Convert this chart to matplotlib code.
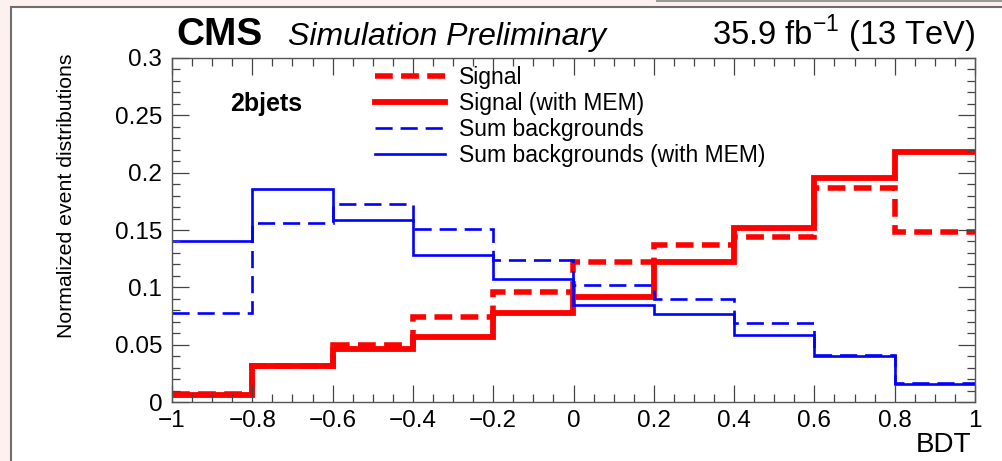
import numpy as np
import matplotlib.pyplot as plt
from matplotlib.patches import Rectangle
from matplotlib.lines import Line2D
from matplotlib.ticker import MultipleLocator, FuncFormatter
from matplotlib import font_manager

plt.rcParams['font.family'] = ['Liberation Sans', 'DejaVu Sans']
plt.rcParams['mathtext.fontset'] = 'custom'
plt.rcParams['mathtext.rm'] = 'Liberation Sans'

# BDT bins and normalized distributions
bin_edges = [-1.0, -0.8, -0.6, -0.4, -0.2, 0.0, 0.2, 0.4, 0.6, 0.8, 1.0]
signal = [0.007, 0.031, 0.050, 0.074, 0.096, 0.122, 0.137, 0.144, 0.187, 0.148]
signal_mem = [0.006, 0.031, 0.046, 0.057, 0.078, 0.092, 0.122, 0.152, 0.195, 0.218]
bkg = [0.078, 0.156, 0.173, 0.151, 0.124, 0.102, 0.090, 0.069, 0.041, 0.017]
bkg_mem = [0.140, 0.186, 0.159, 0.128, 0.107, 0.085, 0.077, 0.058, 0.040, 0.016]

fig = plt.figure(figsize=(10.03, 4.61), dpi=100, facecolor='#fdf1f0')
# white canvas panel
fig.patches.append(Rectangle((11 / 1003, -0.1), 1.2, 1.1 - 7 / 461, transform=fig.transFigure,
                             facecolor='white', edgecolor='#6e6e6e', lw=1.5, zorder=-5))
fig.lines.append(Line2D([657 / 1003, 1.0], [1 - 1.5 / 461] * 2, transform=fig.transFigure,
                        color='#9a9a9a', lw=1.5, zorder=-4))

ax = fig.add_axes([172 / 1003, 1 - 402 / 461, 803 / 1003, 344 / 461])
ax.set_facecolor('white')

ax.stairs(signal, bin_edges, baseline=None, color='#ff0000', lw=4, linestyle=(0, (3.2, 1.5)),
          label='Signal')
ax.stairs(signal_mem, bin_edges, baseline=None, color='#ff0000', lw=4.2, label='Signal (with MEM)')
ax.stairs(bkg, bin_edges, baseline=None, color='#0000ff', lw=1.9, linestyle=(0, (6.5, 3)),
          label='Sum backgrounds')
ax.stairs(bkg_mem, bin_edges, baseline=None, color='#0000ff', lw=1.9,
          label='Sum backgrounds (with MEM)')

ax.set_xlim(-1, 1)
ax.set_ylim(0, 0.3)
ax.xaxis.set_major_locator(MultipleLocator(0.2))
ax.xaxis.set_minor_locator(MultipleLocator(0.05))
ax.yaxis.set_major_locator(MultipleLocator(0.05))
ax.yaxis.set_minor_locator(MultipleLocator(0.01))
fmt = FuncFormatter(lambda v, p: ('%g' % round(v, 3)).replace('-', '\u2212'))
ax.xaxis.set_major_formatter(fmt)
ax.yaxis.set_major_formatter(fmt)
ax.tick_params(which='both', direction='in', top=True, right=True, color='#444444', width=0.9)
ax.tick_params(which='major', length=12, labelsize=17.5, colors='#444444', labelcolor='black')
ax.tick_params(which='minor', length=6)
ax.tick_params(axis='x', which='major', pad=6)
ax.tick_params(axis='y', which='major', pad=7)
for s in ax.spines.values():
    s.set_color('#555555')
    s.set_linewidth(1.0)

# y label: narrow face if available, sized to span the same length as in the original
try:
    font_manager.findfont('Liberation Sans Narrow', fallback_to_default=False)
    ylab_family = 'Liberation Sans Narrow'
except ValueError:
    ylab_family = 'Liberation Sans'
ylab = ax.set_ylabel('Normalized event distributions', family=ylab_family, fontsize=20,
                     ha='right', va='center', rotation=90)
ax.yaxis.set_label_coords(-(172 - 67) / 803, 1 + (58 - 53) / 344)
fig.canvas.draw()
ext = ylab.get_window_extent()
ylab.set_fontsize(20 * 284 / ext.height)

ax.set_xlabel('BDT', fontsize=20, ha='right', va='center')
ax.xaxis.set_label_coords((971 - 172) / 803, -(445 - 402) / 344)

fig.text(176 / 1003, 1 - 45 / 461, 'CMS', fontsize=28, fontweight='bold')
fig.text(288 / 1003, 1 - 45 / 461, 'Simulation Preliminary', fontsize=23, style='italic')
fig.text(975 / 1003, 1 - 45 / 461, '35.9 fb$^{\\mathregular{-1}}$ (13 TeV)', fontsize=23.5, ha='right')
ax.text((230 - 172) / 803, (402 - 104) / 344, '2bjets', transform=ax.transAxes, fontsize=18,
        fontweight='bold', va='center')

ax.legend(loc='upper left', bbox_to_anchor=((375 - 172) / 803, (402 - 66) / 344), frameon=False,
          fontsize=16.5, handlelength=3.05, handletextpad=0.62, labelspacing=0.13,
          borderaxespad=0.0, borderpad=0.0)

fig.savefig('out.png', dpi=100, facecolor=fig.get_facecolor())
